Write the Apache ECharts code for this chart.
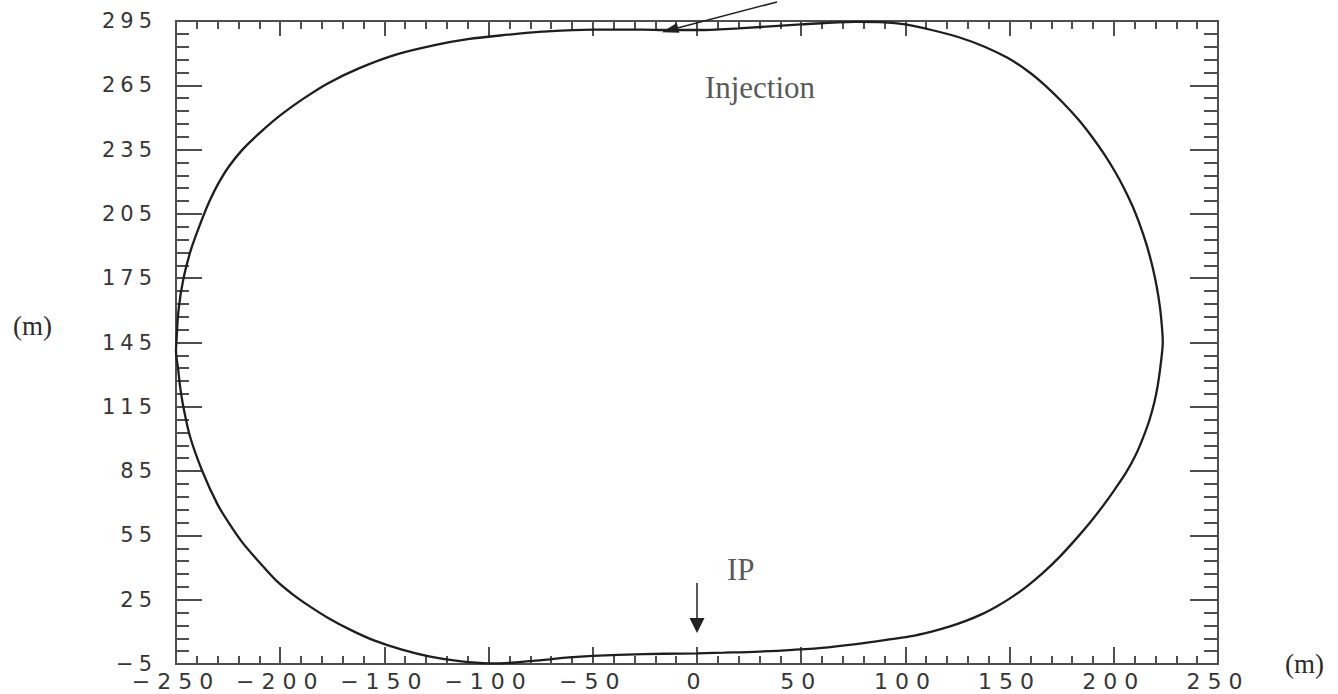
<!DOCTYPE html>
<html>
<head>
<meta charset="utf-8">
<script src="https://cdn.jsdelivr.net/npm/echarts@6/dist/echarts.min.js"></script>
<style>
  html, body { margin: 0; padding: 0; background: #ffffff; }
  #chart { width: 1338px; height: 694px; }
  /* wide, open tick numerals in the style of the plotting package's stroke font */
  #chart text[style*="21px"][style*="DejaVu"] { letter-spacing: 5px; }
  #chart text[style*="22px"][style*="DejaVu"] { letter-spacing: 7px; }
</style>
</head>
<body>
<div id="chart"></div>
<script>
// Closed orbit of the ring in the horizontal plane (metres), traced from the IP
// counter-clockwise: bottom-right arc, right side, top straight, left side, back to the IP.
const orbitX = [
  0, 13, 30, 46, 63, 80, 96, 105, 113, 121, 129, 137, 144, 150, 158, 166, 174, 182, 189, 195, 200.5, 206, 210.5, 214, 217, 219.4, 221, 222.2, 223, 223.5,
  223.2, 222.2, 220.6, 218.4, 215.6, 212.1, 208.8, 204.9, 200.4, 195.3, 189.5, 183, 175.5, 167, 158.5, 149, 138, 126, 112.6, 100, 90, 76, 50, 20, 0, -16,
  -25.7, -50, -74.4, -90.6, -110, -126.5, -144.5, -162, -177, -188.5, -199.4, -209, -218.1, -224.7, -229.8, -233.9, -237.3, -242.6, -246.4, -248.8, -249.8,
  -250, -248.9, -248, -246.4, -243.2, -237.5, -230.2, -224.5, -218, -210, -202, -194, -186, -177, -166, -155, -142, -128, -114, -100, -87.3, -74.4, -61.4, -50, -25.6, 0
];
const orbitY = [
  0, 0.3, 0.8, 1.6, 2.8, 4.7, 7, 8.4, 10.2, 12.4, 15.1, 18.4, 22, 25.5, 31, 37.5, 45, 53.5, 61.5, 69, 76.5, 84.5, 92.5, 100.5, 108.5, 116.9, 124.5, 132.5, 139, 145,
  151, 161, 171, 181, 191, 201, 209, 217, 225, 233, 241, 249, 257, 265, 271.8, 277.8, 283, 287.3, 290.8, 293.4, 294.4, 294.6, 293.4, 291.6, 290.8, 290.8,
  291, 291, 290, 288.6, 286.5, 283.6, 279.3, 273, 266, 259, 251.4, 243.5, 235, 227, 219, 211, 203, 189, 175, 160, 145,
  141.4, 132, 124.2, 114.7, 100.9, 85.3, 69.7, 60.6, 51.5, 42.5, 34, 27.5, 22, 16.5, 10.8, 6, 1.8, -1.6, -3.7, -4.7, -4.3, -3.2, -1.9, -1.2, -0.4, 0
];

// Axis ticks
const xTicks = [-250, -200, -150, -100, -50, 0, 50, 100, 150, 200, 250];
const yTicks = [-5, 25, 55, 85, 115, 145, 175, 205, 235, 265, 295];
const yMinorSteps = 5;

// Annotations (data coordinates)
const noteText = ['Injection', 'IP'];
const noteX = [3.8, 14.4];
const noteY = [263.8, 39.3];
const injectionArrow = [[38.4, 303.9], [-13.0, 290.8]];
const ipArrow = [[0, 32.8], [0, 13.0]];

const orbit = orbitX.map((x, i) => [x, orbitY[i]]);
const notes = noteX.map((x, i) => [x, noteY[i]]);

// minor y ticks: each major interval split in five
const yMinor = [];
for (let i = 0; i < yTicks.length - 1; i++) {
  const step = (yTicks[i + 1] - yTicks[i]) / yMinorSteps;
  for (let k = 0; k < yMinorSteps; k++) yMinor.push(yTicks[i] + k * step);
}
yMinor.push(yTicks[yTicks.length - 1]);

const AXIS = '#4e4e4e';
const TEXT = '#363636';
const SERIF = 'Liberation Serif';
const minus = v => String(v).replace('-', '\u2212');

function yAxis(position, major, withLine, withLabel) {
  return {
    type: 'value',
    min: yTicks[0],
    max: yTicks[yTicks.length - 1],
    position: position,
    splitLine: { show: false },
    axisLine: { show: withLine, onZero: false, lineStyle: { color: AXIS, width: 2 } },
    axisTick: {
      show: true, inside: true,
      customValues: major ? yTicks : yMinor,
      length: major ? (position === 'left' ? 26 : 28) : (position === 'left' ? 13 : 14),
      lineStyle: { color: AXIS, width: 2 }
    },
    axisLabel: withLabel ? {
      show: true, customValues: yTicks, margin: 19,
      fontFamily: 'DejaVu Sans', fontSize: 21, lineHeight: 14, color: TEXT,
      formatter: minus
    } : { show: false }
  };
}

function xAxis(position, withLabel) {
  const top = position === 'top';
  const ax = {
    type: 'value',
    min: xTicks[0],
    max: xTicks[xTicks.length - 1],
    interval: xTicks[1] - xTicks[0],
    position: position,
    splitLine: { show: false },
    minorSplitLine: { show: false },
    axisLine: { show: true, onZero: false, lineStyle: { color: AXIS, width: 2 } },
    axisTick: { show: true, inside: true, length: top ? 15 : 17, lineStyle: { color: AXIS, width: 2 } },
    minorTick: { show: true, splitNumber: 5, length: 8, lineStyle: { color: AXIS, width: 2 } },
    axisLabel: withLabel ? {
      show: true, margin: 10,
      fontFamily: 'DejaVu Sans', fontSize: 22, lineHeight: 15, color: TEXT,
      formatter: minus
    } : { show: false }
  };
  if (withLabel) {
    ax.name = '(m)';
    ax.nameLocation = 'end';
    ax.nameGap = 67;
    ax.nameTextStyle = { fontFamily: SERIF, fontSize: 27, color: '#2b2b2b', align: 'left', verticalAlign: 'middle', padding: [12, 0, 0, 0] };
  }
  return ax;
}

const yLeft = yAxis('left', true, true, true);
yLeft.name = '(m)';
yLeft.nameLocation = 'middle';
yLeft.nameRotate = 0;
yLeft.nameGap = 124;
yLeft.nameTextStyle = { fontFamily: SERIF, fontSize: 27, color: '#2b2b2b', align: 'right', verticalAlign: 'bottom', padding: [0, 0, 3, 0] };

const chart = echarts.init(document.getElementById('chart'), null, { renderer: 'svg' });
chart.setOption({
  animation: false,
  backgroundColor: '#ffffff',
  grid: { left: 176, right: 120, top: 21, bottom: 30, containLabel: false, outerBoundsMode: 'none' },
  xAxis: [xAxis('bottom', true), xAxis('top', false)],
  yAxis: [
    yLeft,
    yAxis('left', false, false, false),
    yAxis('right', true, true, false),
    yAxis('right', false, false, false)
  ],
  series: [
    {
      name: 'orbit',
      type: 'line',
      data: orbit,
      symbol: 'none',
      showSymbol: false,
      smooth: 0.35,
      clip: false,
      silent: true,
      lineStyle: { color: '#1e1e1e', width: 2.3 }
    },
    {
      name: 'injection arrow',
      type: 'lines',
      coordinateSystem: 'cartesian2d',
      clip: false,
      silent: true,
      symbol: ['none', 'triangle'],
      symbolSize: [0, [10, 17]],
      lineStyle: { color: '#222222', width: 1.5, opacity: 1 },
      data: [{ coords: injectionArrow }]
    },
    {
      name: 'IP arrow',
      type: 'lines',
      coordinateSystem: 'cartesian2d',
      clip: false,
      silent: true,
      symbol: ['none', 'triangle'],
      symbolSize: [0, [15, 15]],
      lineStyle: { color: '#222222', width: 1.5, opacity: 1 },
      data: [{ coords: ipArrow }]
    },
    {
      name: 'notes',
      type: 'scatter',
      data: notes,
      symbolSize: 0,
      silent: true,
      itemStyle: { color: 'transparent' },
      label: {
        show: true, position: 'right', distance: 0,
        formatter: p => noteText[p.dataIndex],
        fontFamily: SERIF, fontSize: 31, color: '#2b2b2b'
      }
    }
  ]
});
</script>
</body>
</html>
